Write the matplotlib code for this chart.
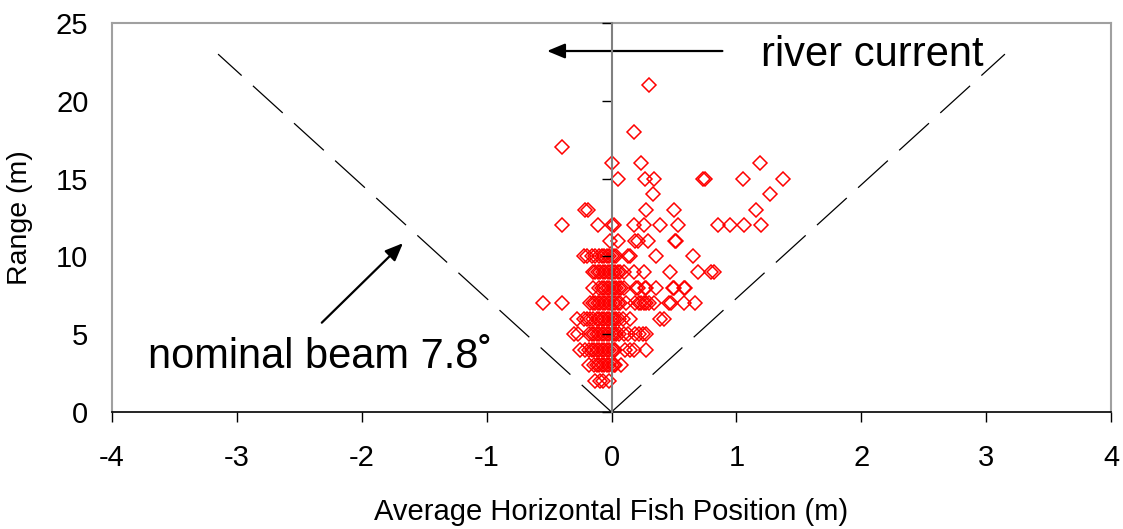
import numpy as np
import matplotlib
matplotlib.use("Agg")
import matplotlib.pyplot as plt

plt.rcParams['font.family'] = ['Liberation Sans', 'DejaVu Sans']
plt.rcParams['lines.scale_dashes'] = False

# ---- data: average horizontal fish position (m) for each range (m) ----
x_at_2m = [-0.13, -0.09, -0.07, -0.02]
x_at_3m = [-0.18, -0.14, -0.12, -0.10, -0.08, -0.06, -0.04, -0.02, 0.0, 0.02, 0.03, 0.08]
x_at_4m = [-0.25, -0.21, -0.18, -0.16, -0.14, -0.12, -0.10, -0.08, -0.06, -0.04, -0.02,
           0.0, 0.02, 0.03, 0.11, 0.15, 0.18, 0.28]
x_at_5m = [-0.30, -0.27, -0.18, -0.16, -0.14, -0.12, -0.10, -0.08, -0.06, -0.04, -0.02,
           0.0, 0.02, 0.04, 0.06, 0.10, 0.13, 0.19, 0.22, 0.25, 0.28]
x_at_6m = [-0.28, -0.22, -0.20, -0.17, -0.15, -0.12, -0.10, -0.08, -0.06, -0.04, -0.02,
           0.0, 0.02, 0.04, 0.06, 0.09, 0.15, 0.39, 0.42]
x_at_7m = [-0.55, -0.40, -0.17, -0.15, -0.13, -0.11, -0.09, -0.07, -0.05, -0.03, -0.01,
           0.01, 0.03, 0.05, 0.07, 0.12, 0.19, 0.22, 0.24, 0.26, 0.28, 0.30, 0.34,
           0.46, 0.48, 0.58, 0.67]
x_at_8m = [-0.15, -0.10, -0.08, -0.06, -0.04, -0.02, 0.0, 0.02, 0.04, 0.06, 0.08, 0.10,
           0.20, 0.21, 0.27, 0.28, 0.36, 0.49, 0.50, 0.58, 0.59]
x_at_9m = [-0.15, -0.13, -0.11, -0.09, -0.07, -0.05, -0.03, -0.01, 0.01, 0.03, 0.05, 0.07,
           0.10, 0.18, 0.26, 0.47, 0.69, 0.80, 0.82]
x_at_10m = [-0.22, -0.20, -0.16, -0.13, -0.10, -0.08, -0.06, -0.04, -0.02, 0.0, 0.02, 0.04,
            0.13, 0.15, 0.36, 0.65]
x_at_11m = [-0.01, 0.05, 0.19, 0.21, 0.29, 0.51, 0.52]
x_at_12m = [-0.40, -0.11, 0.0, 0.02, 0.18, 0.26, 0.39, 0.53, 0.85, 0.95, 1.06, 1.20]
x_at_13m = [-0.21, -0.19, 0.28, 0.50, 1.16]
x_at_14m = [0.33, 1.27]
x_at_15m = [0.05, 0.27, 0.34, 0.73, 0.75, 1.05, 1.37]
x_at_16m = [0.0, 0.24, 1.19]
x_at_17m = [-0.40]
x_at_18m = [0.18]
x_at_21m = [0.30]

range_rows = [2, 3, 4, 5, 6, 7, 8, 9, 10, 11, 12, 13, 14, 15, 16, 17, 18, 21]
x_rows = [x_at_2m, x_at_3m, x_at_4m, x_at_5m, x_at_6m, x_at_7m, x_at_8m, x_at_9m,
          x_at_10m, x_at_11m, x_at_12m, x_at_13m, x_at_14m, x_at_15m, x_at_16m,
          x_at_17m, x_at_18m, x_at_21m]

beam_angle_deg = 7.8
beam_range = 23.0

x_ticks = [-4, -3, -2, -1, 0, 1, 2, 3, 4]
y_ticks = [0, 5, 10, 15, 20, 25]

fish_x = np.concatenate([np.asarray(r, float) for r in x_rows])
fish_y = np.concatenate([np.full(len(r), rg, float) for r, rg in zip(x_rows, range_rows)])

# ---- figure ----
fig = plt.figure(figsize=(11.23, 5.29), dpi=100)
ax = fig.add_axes([112/1123, 1 - 412/529, (1111 - 112)/1123, (412 - 23)/529])
ax.set_xlim(-4, 4)
ax.set_ylim(0, 25)

frame_gray = '#a0a0a0'
for s in ('left', 'top', 'right'):
    ax.spines[s].set_color(frame_gray)
    ax.spines[s].set_linewidth(1.5)
ax.spines['bottom'].set_color('black')
ax.spines['bottom'].set_linewidth(1.2)

ax.set_xticks(x_ticks)
ax.set_xticklabels([str(v) for v in x_ticks])
ax.set_yticks(y_ticks)
ax.set_yticklabels([str(v) for v in y_ticks])
ax.tick_params(axis='x', direction='out', length=7.2, width=1, color='black',
               labelsize=21, pad=16)
ax.tick_params(axis='y', length=0, labelsize=21, pad=17)

# beam edges
half_width = beam_range * np.tan(np.radians(beam_angle_deg))
for sgn in (-1, 1):
    ax.plot([0, sgn * half_width], [0, beam_range], color='black', lw=0.9,
            dashes=(29, 11), zorder=2)

# fish detections
ax.plot(fish_x, fish_y, linestyle='none', marker='D', markersize=6.8,
        markerfacecolor='none', markeredgecolor='#ff0000', markeredgewidth=1.1,
        zorder=3)

# vertical axis through x = 0 with ticks
ax2 = ax.twinx()
ax2.set_ylim(0, 25)
ax2.set_yticks(y_ticks)
for s in ('left', 'top', 'bottom'):
    ax2.spines[s].set_visible(False)
ax2.spines['right'].set_position(('data', 0))
ax2.spines['right'].set_color('#808080')
ax2.spines['right'].set_linewidth(1.5)
ax2.tick_params(axis='y', direction='in', length=7.2, width=1, color='black',
                labelright=False)

# labels
ax.set_xlabel('Average Horizontal Fish Position (m)', fontsize=21)
ax.xaxis.set_label_coords(0.5, -0.222)
ax.set_ylabel('Range (m)', fontsize=20.5)
ax.yaxis.set_label_coords(-0.079, 0.5)

# annotations
ax.annotate('', xy=(-0.516, 23.2), xytext=(0.888, 23.2),
            arrowprops=dict(arrowstyle='-|>,head_length=0.6,head_width=0.25',
                            mutation_scale=18, lw=1.6, color='black',
                            shrinkA=0, shrinkB=0), zorder=4)
ax.text(1.195, 22.25, 'river current', fontsize=30, ha='left', va='baseline')

ax.annotate('', xy=(-1.67, 10.85), xytext=(-2.32, 5.74),
            arrowprops=dict(arrowstyle='-|>,head_length=0.6,head_width=0.25',
                            mutation_scale=18, lw=1.6, color='black',
                            shrinkA=0, shrinkB=0), zorder=4)
ax.text(-3.713, 2.83, 'nominal beam 7.8˚', fontsize=30, ha='left', va='baseline')

fig.savefig('out.png', dpi=100)
